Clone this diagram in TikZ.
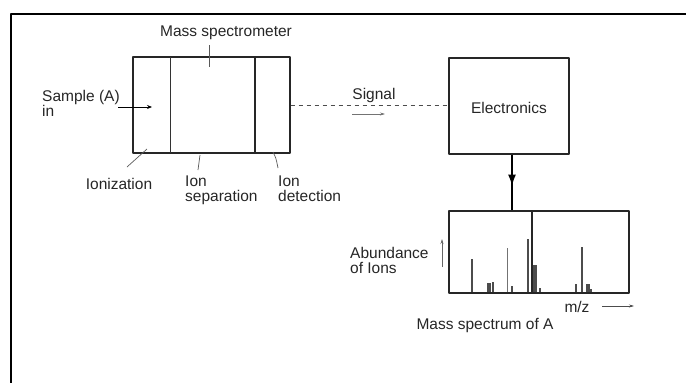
\documentclass[tikz,border=0pt]{standalone}
\usepackage{fontspec}
\setmainfont{Liberation Sans}
\usetikzlibrary{arrows.meta,positioning}

\begin{document}
\begin{tikzpicture}[
    x=1pt, y=-1pt,
    line join=round,
    font=\fontsize{15.5}{15}\selectfont,
    box/.style={draw=black!85, line width=1.1pt, inner sep=0pt},
    lbl/.style={inner sep=0pt, text=black!85, align=left},
    lead/.style={draw=black!65, line width=0.7pt},
    peak/.style={draw=black!70, line width=1.3pt}
]
    \useasboundingbox (0,0) rectangle (686,383);

    % frame
    \draw[line width=2pt] (11,383) -- (11,14) -- (686,14);

    % mass spectrometer
    \node[box, minimum width=157pt, minimum height=96pt] (ms) at (211.5,105) {};
    \draw[black!80, line width=0.8pt] (170,57) -- (170,153);
    \draw[black!85, line width=1.1pt] (255,57) -- (255,153);
    \node[lbl] (mslbl) at (226,33) {Mass spectrometer};
    \draw[lead] (209,45) -- (209,67);

    % sample in
    \node[lbl, anchor=west] (sample) at (42,103) {Sample (A)\\in};
    \draw[-{Stealth[length=5pt,width=4pt]}, line width=0.8pt] (118,107) -- (152,107);

    % parts
    \node[lbl] (ioniz) at (119,184) {Ionization};
    \node[lbl, anchor=north west] (sep) at (185,176) {Ion\\separation};
    \node[lbl, anchor=north west] (det) at (278,176) {Ion\\detection};
    \draw[lead] (147,149) -- (127,167);
    \draw[lead] (200,155) -- (198,170);
    \draw[lead] (273,152) .. controls (276,158) .. (278,168);

    % electronics
    \node[box, minimum width=120pt, minimum height=96pt] (elec) at (509,106) {};
    \node[lbl] (eleclbl) at (elec.center) [yshift=-2pt] {Electronics};
    \draw[dashed, black!70, line width=0.7pt, dash pattern=on 4pt off 4pt] (ms.east) -- (elec.west |- ms.east);
    \node[lbl] (sig) at (374,95) {Signal};
    \draw[-{Stealth[length=5pt,width=3pt]}, black!55, line width=0.6pt] (352,114) -- (385,114);

    % spectrum
    \node[box, minimum width=180pt, minimum height=82pt] (spec) at (539,252) {};
    \draw[line width=1.1pt, -{Latex[length=11pt,width=8pt]}] ([xshift=3pt]elec.south) -- ++(0,31);
    \draw[line width=1.1pt] ([xshift=3pt]elec.south) -- ([xshift=3pt]elec.south |- spec.north);

    % peaks
    \foreach \x/\t in {472/259, 488/283, 490/283, 493/282, 512/286, 528/239,
                       534/265, 536/265, 540/288, 576/284, 582/247, 587/284,
                       589/284, 591/289}
        \draw[peak] (\x,292) -- (\x,\t);
    \draw[black!55, line width=0.8pt] (507,292) -- (507,248);
    \draw[black!85, line width=1.2pt] (532,292) -- (532,212);

    % axes labels
    \node[lbl, anchor=north west] (abund) at (350,247) {Abundance\\of Ions};
    \draw[-{Stealth[length=5pt,width=3pt]}, black!60, line width=0.6pt] (442,267) -- (442,239);
    \node[lbl] (mz) at (577,307) {m/z};
    \draw[-{Stealth[length=5pt,width=3pt]}, black!70, line width=0.6pt] (602,306) -- (634,306);
    \node[lbl] (title) at (485,325) {Mass spectrum of A};
\end{tikzpicture}
\end{document}
